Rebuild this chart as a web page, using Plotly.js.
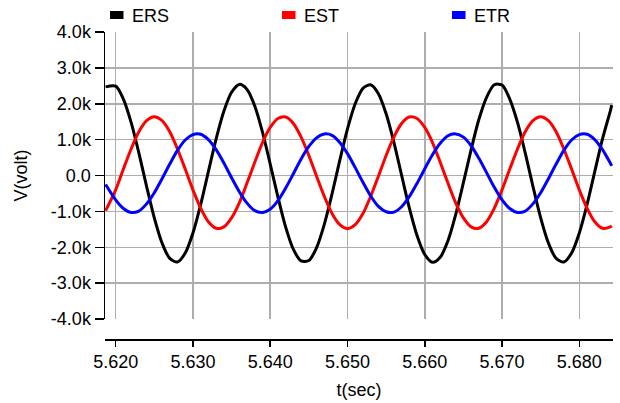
<!DOCTYPE html>
<html>
<head>
<meta charset="utf-8">
<script src="https://cdn.plot.ly/plotly-3.0.1.min.js"></script>
<style>html,body{margin:0;padding:0;background:#fff;}#chart{width:620px;height:403px;}</style>
</head>
<body>
<div id="chart"></div>
<script>
// time (s)
const t = [5.6187,
 5.620, 5.621, 5.622, 5.623, 5.624, 5.625, 5.626, 5.627, 5.628, 5.629,
 5.630, 5.631, 5.632, 5.633, 5.634, 5.635, 5.636, 5.637, 5.638, 5.639,
 5.640, 5.641, 5.642, 5.643, 5.644, 5.645, 5.646, 5.647, 5.648, 5.649,
 5.650, 5.651, 5.652, 5.653, 5.654, 5.655, 5.656, 5.657, 5.658, 5.659,
 5.660, 5.661, 5.662, 5.663, 5.664, 5.665, 5.666, 5.667, 5.668, 5.669,
 5.670, 5.671, 5.672, 5.673, 5.674, 5.675, 5.676, 5.677, 5.678, 5.679,
 5.680, 5.681, 5.682, 5.683, 5.684, 5.6842];

// voltages (V)
const ers = [2470,
 2490, 2130, 1480, 630, -300, -1180, -1880, -2310, -2410, -2160,
 -1600, -810, 110, 1020, 1790, 2320, 2540, 2400, 1940, 1210,
 320, -600, -1440, -2060, -2380, -2370, -2010, -1360, -510, 420,
 1300, 2000, 2430, 2530, 2280, 1720, 930, 10, -900, -1670,
 -2200, -2420, -2280, -1820, -1090, -200, 720, 1560, 2180, 2530,
 2520, 2130, 1480, 630, -300, -1180, -1880, -2310, -2410, -2160,
 -1600, -810, 110, 1020, 1790, 1960];

const est = [-980,
 -400, 180, 740, 1220, 1530, 1640, 1530, 1220, 740, 180,
 -400, -910, -1290, -1470, -1430, -1180, -760, -210, 370, 920,
 1340, 1590, 1630, 1450, 1070, 560, -20, -580, -1060, -1370,
 -1480, -1370, -1060, -580, -20, 560, 1070, 1450, 1630, 1590,
 1340, 920, 370, -210, -760, -1180, -1430, -1470, -1290, -910,
 -400, 180, 740, 1220, 1530, 1640, 1530, 1220, 740, 180,
 -400, -910, -1290, -1470, -1430, -1400];

const etr = [-250,
 -680, -920, -1030, -990, -790, -480, -90, 320, 700, 990,
 1140, 1150, 1000, 720, 350, -60, -450, -770, -980, -1030,
 -940, -700, -350, 50, 460, 810, 1050, 1160, 1120, 920,
 610, 220, -190, -570, -860, -1010, -1020, -870, -590, -220,
 190, 580, 900, 1110, 1160, 1070, 830, 480, 80, -330,
 -680, -920, -1030, -990, -790, -480, -90, 320, 700, 990,
 1140, 1150, 1000, 720, 350, 270];

const seriesNames = ["ERS", "EST", "ETR"];
const seriesColors = ["#000000", "#ff0000", "#0000ff"];

const xTickVals = [5.62, 5.63, 5.64, 5.65, 5.66, 5.67, 5.68];
const xTickText = ["5.620", "5.630", "5.640", "5.650", "5.660", "5.670", "5.680"];
const yTickVals = [4000, 3000, 2000, 1000, 0, -1000, -2000, -3000, -4000];
const yTickText = ["4.0k", "3.0k", "2.0k", "1.0k", "0.0", "-1.0k", "-2.0k", "-3.0k", "-4.0k"];

const ys = [ers, est, etr];
const traces = ys.map((y, i) => ({
  type: "scatter", mode: "lines", x: t, y: y, name: seriesNames[i],
  line: {color: seriesColors[i], width: 3, shape: "spline", smoothing: 0.8},
  showlegend: false, hoverinfo: "skip"
}));

const FONT = "Arial, 'Liberation Sans', sans-serif";

// legend: squares + labels placed in paper coords
const legX = [0.0098, 0.3484, 0.6831];
const shapes = legX.map((x0, i) => ({
  type: "rect", xref: "paper", yref: "paper",
  x0: x0, x1: x0 + 0.0266, y0: 1.0423, y1: 1.0684,
  fillcolor: seriesColors[i], line: {width: 0}
}));
const annotations = legX.map((x0, i) => ({
  xref: "paper", yref: "paper", x: x0 + 0.039, y: 1.052,
  xanchor: "left", yanchor: "middle", showarrow: false,
  text: seriesNames[i], font: {family: FONT, size: 18, color: "#000"}
}));

const layout = {
  width: 620, height: 403,
  margin: {l: 105, r: 7, t: 32, b: 64},
  paper_bgcolor: "#ffffff", plot_bgcolor: "#ffffff",
  font: {family: FONT, size: 18, color: "#000"},
  showlegend: false,
  xaxis: {
    range: [5.61862, 5.68436], anchor: "free", position: 0,
    tickvals: xTickVals, ticktext: xTickText,
    showgrid: true, gridcolor: "#adadad", gridwidth: 1.5,
    showline: true, linecolor: "#000", linewidth: 1.5,
    ticks: "outside", ticklen: 6, tickwidth: 1.5, tickcolor: "#000",
    zeroline: false,
    title: {text: "t(sec)", font: {family: FONT, size: 18}, standoff: 12}
  },
  yaxis: {
    range: [-4000, 4000], domain: [0.065, 1],
    tickvals: yTickVals, ticktext: yTickText,
    showgrid: true, gridcolor: "#adadad", gridwidth: 1.5,
    showline: true, linecolor: "#000", linewidth: 1.5,
    ticks: "outside", ticklen: 9, tickwidth: 1.5, tickcolor: "#000",
    zeroline: false,
    title: {text: "V(volt)", font: {family: FONT, size: 18}, standoff: 18}
  },
  shapes: shapes,
  annotations: annotations
};

Plotly.newPlot("chart", traces, layout, {staticPlot: true, displayModeBar: false});
</script>
</body>
</html>
